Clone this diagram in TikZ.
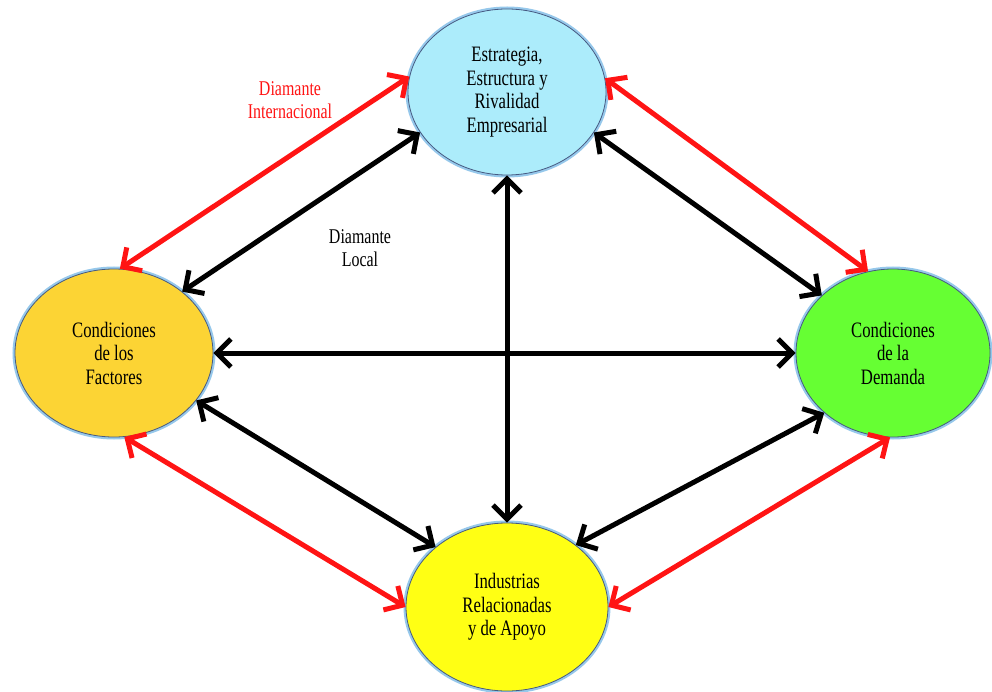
\documentclass[tikz,border=0pt]{standalone}
\usepackage{fontspec}
\setmainfont{Liberation Serif}[FakeStretch=0.76]
\usetikzlibrary{arrows.meta,shapes.geometric}

\definecolor{celeste}{RGB}{172,236,251}
\definecolor{oro}{RGB}{252,212,52}
\definecolor{verde}{RGB}{102,255,51}
\definecolor{amarillo}{RGB}{255,255,20}
\definecolor{borde}{RGB}{70,90,130}
\definecolor{brillo}{RGB}{150,200,235}
\definecolor{rojo}{RGB}{255,20,20}

\tikzset{every picture/.style={line width=0.75pt}}
\tikzset{
  oval/.style={ellipse, draw=borde, line width=0.8pt, inner sep=0pt, align=center,
    font=\fontsize{22}{23.5}\selectfont, preaction={draw=brillo, line width=5pt}},
  flecha/.style={line width=5pt,
    {Straight Barb[length=14pt,width=28pt]}-{Straight Barb[length=14pt,width=28pt]}},
  local/.style={flecha, draw=black},
  inter/.style={flecha, draw=rojo},
  rotulo/.style={align=center, font=\fontsize{21}{23.5}\selectfont}
}

\begin{document}
\begin{tikzpicture}[x=1pt,y=1pt,yscale=-1,xscale=1]
  \useasboundingbox (0,0) rectangle (992,692);

  % los cuatro determinantes
  \node [oval, fill=celeste, minimum width=198pt, minimum height=166pt] (est) at (507,92) {Estrategia,\\Estructura y\\Rivalidad\\Empresarial};
  \node [oval, fill=oro, minimum width=198pt, minimum height=168pt] (fac) at (114,353) {Condiciones\\de los\\Factores};
  \node [oval, fill=verde, minimum width=194pt, minimum height=168pt] (dem) at (893,353) {Condiciones\\de la\\Demanda};
  \node [oval, fill=amarillo, minimum width=202pt, minimum height=168pt] (ind) at (507,607) {Industrias\\Relacionadas\\y de Apoyo};

  % diamante internacional
  \draw [inter] (fac.86) -- (est.171);
  \draw [inter] (est.8) -- (dem.107);
  \draw [inter] (fac.-83) -- (ind.180);
  \draw [inter] (ind.0) -- (dem.-92);

  % diamante local
  \draw [local] (fac.42) -- (est.205);
  \draw [local] (est.335) -- (dem.141);
  \draw [local] (fac.0) -- (dem.180);
  \draw [local] (est.270) -- (ind.90);
  \draw [local] (fac.-30) -- (ind.140);
  \draw [local] (ind.42) -- (dem.221);

  \node [rotulo, text=rojo] (lint) at (290,100) {Diamante\\Internacional};
  \node [rotulo] (lloc) at (360,248) {Diamante\\Local};

\end{tikzpicture}
\end{document}
